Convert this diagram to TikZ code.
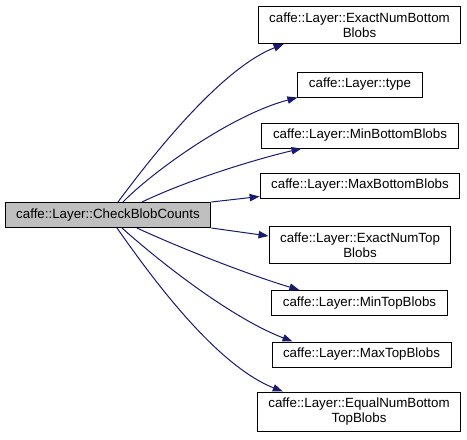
\documentclass[tikz,border=0pt]{standalone}
\usepackage{fontspec}
\setmainfont{Liberation Sans}
\usetikzlibrary{arrows.meta}
\definecolor{edgeblue}{HTML}{191970}
\definecolor{srcgray}{HTML}{BFBFBF}

\begin{document}
\begin{tikzpicture}[x=0.75pt,y=0.75pt,
		fn/.style={draw=black, line width=0.75pt, font=\fontsize{10}{11.25}\selectfont, align=center,
				inner xsep=8.3pt, inner ysep=4.7pt, minimum height=18.75pt},
		srcfn/.style={fn, fill=srcgray},
		call/.style={draw=edgeblue, line width=0.75pt, -{Triangle[length=7.5pt,width=5.5pt]}}]
	\useasboundingbox (0,0) rectangle (467,-439);

	% caller
	\node[srcfn] (check) at (108,-215) {caffe::Layer::CheckBlobCounts};

	% callees
	\node[fn] (exbot) at (359.5,-25) {caffe::Layer::ExactNumBottom\\Blobs};
	\node[fn] (type) at (360,-84.5) {caffe::Layer::type};
	\node[fn] (minbot) at (360,-135.5) {caffe::Layer::MinBottomBlobs};
	\node[fn] (maxbot) at (360,-185.5) {caffe::Layer::MaxBottomBlobs};
	\node[fn] (extop) at (360,-245) {caffe::Layer::ExactNumTop\\Blobs};
	\node[fn] (mintop) at (359.5,-303) {caffe::Layer::MinTopBlobs};
	\node[fn] (maxtop) at (361.5,-354.5) {caffe::Layer::MaxTopBlobs};
	\node[fn] (eqnum) at (359,-412) {caffe::Layer::EqualNumBottom\\TopBlobs};

	% calls
	\draw[call] ([xshift=7.5pt]check.north) .. controls +(32,43) and +(-64,-25) .. ([xshift=19.5pt]exbot.south west);
	\draw[call] ([xshift=11.25pt]check.north) .. controls +(27,28) and +(-68,-18) .. (type.south west);
	\draw[call] ([xshift=25.5pt]check.north) .. controls +(48,23) and +(-43,-10) .. ([xshift=30pt]minbot.south west);
	\draw[call] (check.north east) -- ([yshift=1.5pt]maxbot.south west);
	\draw[call] (check.south east) -- ([yshift=6.75pt]extop.west);
	\draw[call] ([xshift=21.75pt]check.south) .. controls +(43,-20) and +(-50,15) .. ([xshift=21pt]mintop.north west);
	\draw[call] ([xshift=10.5pt]check.south) .. controls +(38,-34) and +(-62,24) .. ([xshift=15.75pt]maxtop.north west);
	\draw[call] ([xshift=6.75pt]check.south) .. controls +(33,-47) and +(-68,27) .. ([xshift=19.5pt]eqnum.north west);
\end{tikzpicture}
\end{document}
